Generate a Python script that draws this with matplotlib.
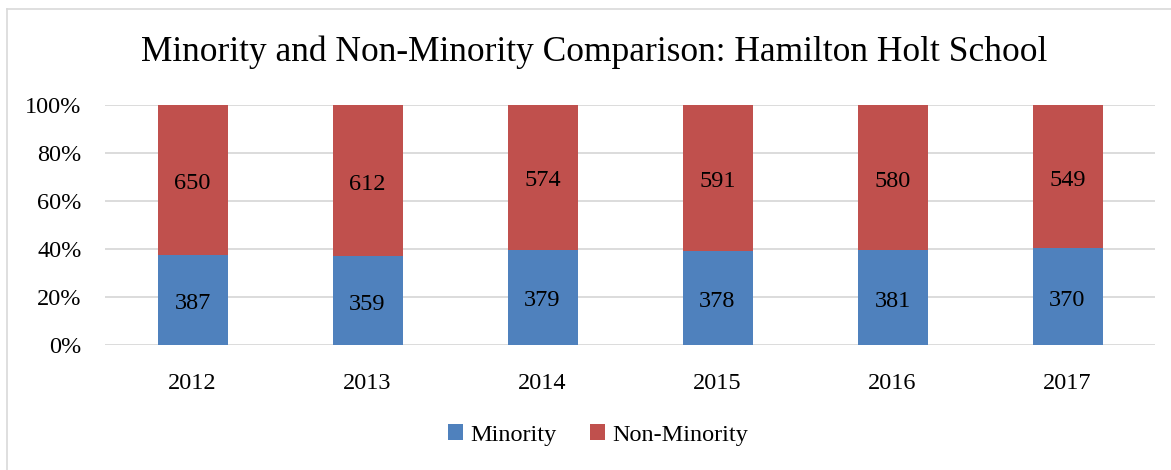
import numpy as np
import matplotlib.pyplot as plt
from matplotlib.lines import Line2D

# Data
years = ['2012', '2013', '2014', '2015', '2016', '2017']
minority = np.array([387, 359, 379, 378, 381, 370])
non_minority = np.array([650, 612, 574, 591, 580, 549])

# percentages for 100% stacked bars
total = minority + non_minority
min_pct = minority / total * 100
non_pct = non_minority / total * 100

plt.rcParams['font.family'] = ['Liberation Serif', 'DejaVu Serif']

fig = plt.figure(figsize=(11.71, 4.70), dpi=100)
ax = fig.add_axes([105 / 1171, 1 - 345 / 470, 1050 / 1171, 240 / 470])

x = np.arange(len(years))
blue = '#4F81BD'
red = '#C0504D'
ax.bar(x, min_pct, 0.4, color=blue, label='Minority', zorder=3)
ax.bar(x, non_pct, 0.4, bottom=min_pct, color=red, label='Non-Minority', zorder=3)

# value labels
for i in range(len(years)):
    ax.text(x[i], min_pct[i] / 2 - 1.5, str(minority[i]), ha='center', va='center', fontsize=17.5)
    ax.text(x[i], min_pct[i] + non_pct[i] / 2 - 1.5, str(non_minority[i]), ha='center', va='center', fontsize=17.5)

ax.set_xlim(-0.5, len(years) - 0.5)
ax.set_ylim(0, 100)
ax.set_yticks(np.arange(0, 101, 20))
ax.set_yticklabels([str(v) + '%' for v in range(0, 101, 20)])
ax.set_xticks(x)
ax.set_xticklabels(years)
ax.tick_params(axis='both', length=0, labelsize=17.5)
ax.tick_params(axis='x', pad=20)
ax.tick_params(axis='y', pad=17)
ax.yaxis.grid(True, color='#D9D9D9', linewidth=1.3, zorder=0)
for s in ax.spines.values():
    s.set_visible(False)

fig.text(594 / 1171, 1 - 52 / 470, 'Minority and Non-Minority Comparison: Hamilton Holt School',
         ha='center', va='center', fontsize=25.5)

fig.legend(loc='center', bbox_to_anchor=(598 / 1171, 1 - 435 / 470), ncol=2, frameon=False,
           fontsize=17.5, handlelength=0.6, handleheight=0.6, handletextpad=0.3, columnspacing=1.4)

# chart border
fig.add_artist(Line2D([7 / 1171, 7 / 1171], [0, 1 - 9 / 470], color='#D9D9D9', lw=1.2))
fig.add_artist(Line2D([7 / 1171, 1], [1 - 9 / 470, 1 - 9 / 470], color='#D9D9D9', lw=1.2))

plt.savefig('out.png', dpi=100)
